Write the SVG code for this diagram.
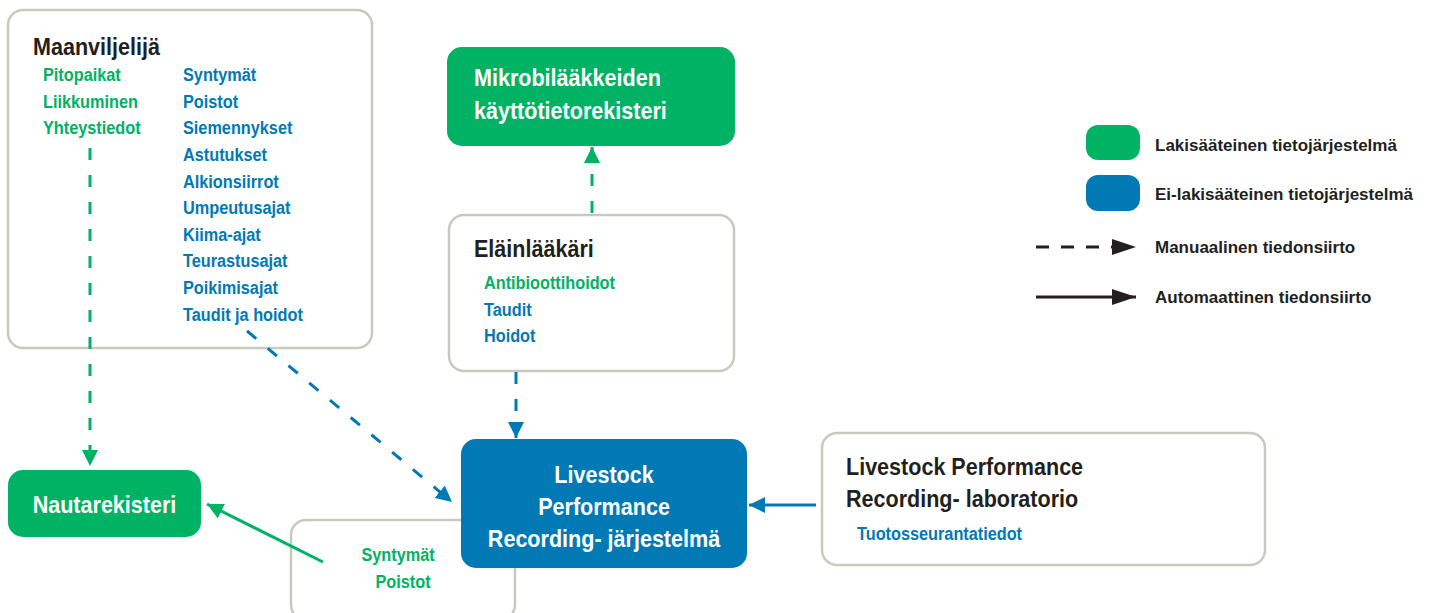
<svg xmlns="http://www.w3.org/2000/svg" width="1433" height="613" viewBox="0 0 1433 613">
<style>
text{font-family:"Liberation Sans",Arial,sans-serif;font-weight:bold}
.c{transform-box:fill-box;transform-origin:0 0;transform:scaleX(0.88)}
.cm{transform-box:fill-box;transform-origin:50% 0;transform:scaleX(0.88)}
.title{font-size:24.5px;fill:#231f20}
.wt{font-size:24.5px;fill:#fff}
.it{font-size:18.5px}
.g{fill:#00b264}
.b{fill:#0079b5}
.box{fill:#fff;stroke:#c9c9bf;stroke-width:2.5}
.gbox{fill:#00b264}
.bbox{fill:#0079b5}
.leg{font-size:17px;fill:#231f20}
.gl{stroke:#00b264;stroke-width:3;fill:none}
.bl{stroke:#0079b5;stroke-width:3;fill:none}
.kl{stroke:#231f20;stroke-width:3;fill:none}
.dash{stroke-dasharray:12 15}
</style>
<defs>
<marker id="ag" markerUnits="userSpaceOnUse" markerWidth="16" markerHeight="16" viewBox="0 0 16 16" refX="16" refY="8" orient="auto"><path d="M0,0 L16,8 L0,16 z" fill="#00b264"/></marker>
<marker id="ab" markerUnits="userSpaceOnUse" markerWidth="16" markerHeight="16" viewBox="0 0 16 16" refX="16" refY="8" orient="auto"><path d="M0,0 L16,8 L0,16 z" fill="#0079b5"/></marker>
<marker id="ak" markerUnits="userSpaceOnUse" markerWidth="24" markerHeight="16" viewBox="0 0 24 16" refX="24" refY="8" orient="auto"><path d="M0,0 L24,8 L0,16 z" fill="#231f20"/></marker>
</defs>

<g id="maanviljelija">
<rect class="box" x="8" y="10" width="364" height="338" rx="15"/>
<text class="title c" x="33" y="55">Maanviljelijä</text>
<text class="it g c" x="43" y="81">Pitopaikat</text>
<text class="it g c" x="43" y="108">Liikkuminen</text>
<text class="it g c" x="43" y="134">Yhteystiedot</text>
<text class="it b c" x="183" y="81">Syntymät</text>
<text class="it b c" x="183" y="108">Poistot</text>
<text class="it b c" x="183" y="134">Siemennykset</text>
<text class="it b c" x="183" y="161">Astutukset</text>
<text class="it b c" x="183" y="188">Alkionsiirrot</text>
<text class="it b c" x="183" y="214">Umpeutusajat</text>
<text class="it b c" x="183" y="241">Kiima-ajat</text>
<text class="it b c" x="183" y="267">Teurastusajat</text>
<text class="it b c" x="183" y="294">Poikimisajat</text>
<text class="it b c" x="183" y="321">Taudit ja hoidot</text>
</g>

<g id="mikrobi">
<rect class="gbox" x="447" y="47" width="288" height="99" rx="15"/>
<text class="wt c" x="474" y="86">Mikrobilääkkeiden</text>
<text class="wt c" x="474" y="119">käyttötietorekisteri</text>
</g>

<g id="elainlaakari">
<rect class="box" x="449" y="215" width="285" height="156" rx="15"/>
<text class="title c" x="474" y="257">Eläinlääkäri</text>
<text class="it g c" x="484" y="289">Antibioottihoidot</text>
<text class="it b c" x="484" y="316">Taudit</text>
<text class="it b c" x="484" y="342">Hoidot</text>
</g>

<g id="nautarekisteri">
<rect class="gbox" x="8" y="470" width="193" height="67" rx="15"/>
<text class="wt cm" x="104.5" y="513" text-anchor="middle">Nautarekisteri</text>
</g>

<g id="syntymat-poistot">
<rect class="box" x="291" y="520" width="224" height="100" rx="15"/>
<text class="it g cm" x="398" y="561" text-anchor="middle">Syntymät</text>
<text class="it g cm" x="403" y="588" text-anchor="middle">Poistot</text>
</g>

<g id="lpr-jarjestelma">
<rect class="bbox" x="461" y="439" width="286" height="129" rx="15"/>
<text class="wt cm" x="604" y="483" text-anchor="middle">Livestock</text>
<text class="wt cm" x="604" y="515" text-anchor="middle">Performance</text>
<text class="wt cm" x="604" y="547" text-anchor="middle">Recording- järjestelmä</text>
</g>

<g id="lpr-laboratorio">
<rect class="box" x="822" y="433" width="443" height="132" rx="15"/>
<text class="title c" x="846" y="475">Livestock Performance</text>
<text class="title c" x="846" y="507">Recording- laboratorio</text>
<text class="it b c" x="857" y="540">Tuotosseurantatiedot</text>
</g>

<g id="connectors">
<path class="gl dash" d="M90,148 L90,466" marker-end="url(#ag)"/>
<path class="gl dash" d="M592,213 L592,147" marker-end="url(#ag)"/>
<path class="bl dash" d="M516,372 L516,438" marker-end="url(#ab)"/>
<path class="bl dash" d="M247,331 L452,502" marker-end="url(#ab)"/>
<path class="gl" d="M323,562 L207,504" marker-end="url(#ag)"/>
<path class="bl" d="M816,505 L749,505" marker-end="url(#ab)"/>
</g>

<g id="legend">
<rect class="gbox" x="1086" y="125" width="54" height="35" rx="12"/>
<text class="leg" x="1155" y="151">Lakisääteinen tietojärjestelmä</text>
<rect class="bbox" x="1086" y="175" width="54" height="36" rx="12"/>
<text class="leg" x="1155" y="200">Ei-lakisääteinen tietojärjestelmä</text>
<path class="kl" d="M1036,247 L1136,247" stroke-dasharray="13 12" marker-end="url(#ak)"/>
<text class="leg" x="1155" y="253">Manuaalinen tiedonsiirto</text>
<path class="kl" d="M1036,297 L1136,297" marker-end="url(#ak)"/>
<text class="leg" x="1155" y="303">Automaattinen tiedonsiirto</text>
</g>
</svg>
